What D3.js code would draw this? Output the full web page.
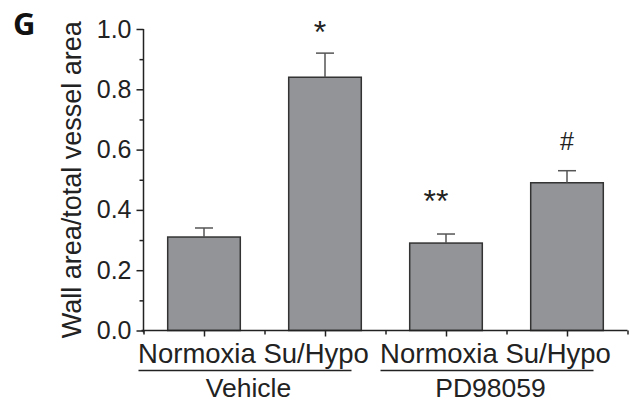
<!DOCTYPE html>
<html>
<head>
<meta charset="utf-8">
<script src="https://cdn.jsdelivr.net/npm/d3@7"></script>
<style>
  html, body { margin: 0; padding: 0; background: #fff; }
  svg { display: block; font-family: "Liberation Sans", Arial, sans-serif; }
</style>
</head>
<body>
<svg id="chart" width="633" height="404"></svg>
<script>
const categories = ['Normoxia', 'Su/Hypo', 'Normoxia', 'Su/Hypo'];
const groups = ['Vehicle', 'PD98059'];
const means = [0.31, 0.84, 0.29, 0.49];
const errors = [0.03, 0.08, 0.03, 0.04];
const marks = ['', '*', '**', '#'];
const yTicks = [0.0, 0.2, 0.4, 0.6, 0.8, 1.0];

const svg = d3.select('#chart');
const pl = 143.5, pr = 627.5, pt = 29, pb = 330.5;

const x = d3.scaleLinear().domain([0.5, 4.5]).range([pl, pr]);
const y = d3.scaleLinear().domain([0, 1]).range([pb, pt]);
const barW = x(1.6) - x(1);

// bars
svg.append('g').selectAll('rect')
  .data(means)
  .enter()
  .append('rect')
  .attr('x', (d, i) => x(i + 1) - barW / 2)
  .attr('y', d => y(d))
  .attr('width', barW)
  .attr('height', d => y(0) - y(d))
  .attr('fill', '#939497')
  .attr('stroke', '#333')
  .attr('stroke-width', 1.5);

// error bars (upper only)
const eb = svg.append('g').attr('stroke', '#555').attr('stroke-width', 1.5);
means.forEach((m, i) => {
  const cx = x(i + 1);
  eb.append('line').attr('x1', cx).attr('x2', cx).attr('y1', y(m)).attr('y2', y(m + errors[i]));
  eb.append('line').attr('x1', cx - 9).attr('x2', cx + 9).attr('y1', y(m + errors[i])).attr('y2', y(m + errors[i]));
});

// significance marks (gap above the error bar differs a bit per mark)
const markGap = { '*': 10, '**': 22, '#': 21 };
const markDx = { '*': -5, '**': -10, '#': 0 };
svg.append('g').selectAll('text')
  .data(marks)
  .enter()
  .append('text')
  .attr('x', (d, i) => x(i + 1) + (markDx[d] || 0))
  .attr('y', (d, i) => y(means[i] + errors[i]) - (markGap[d] || 0))
  .attr('text-anchor', 'middle')
  .attr('font-size', d => d === '#' ? 25 : 32)
  .attr('fill', '#222')
  .text(d => d);

// y axis
const yAxis = svg.append('g').attr('transform', `translate(${pl},0)`)
  .call(d3.axisLeft(y).tickValues(yTicks).tickFormat(d3.format('.1f')).tickSize(7).tickPadding(5));
svg.append('g').attr('transform', `translate(${pl},0)`)
  .call(d3.axisLeft(y).tickValues(d3.range(0.1, 1, 0.2)).tickSize(4).tickFormat(''))
  .select('.domain').remove();
yAxis.select('.domain').attr('d', `M0,${pt}V${pb + 2}`);
yAxis.selectAll('text').attr('font-size', 25).attr('fill', '#222').attr('font-family', 'Liberation Sans, Arial, sans-serif');

// x axis
const xAxis = svg.append('g').attr('transform', `translate(0,${pb})`)
  .call(d3.axisBottom(x).tickValues([1, 2, 3, 4]).tickSize(6).tickFormat(''));
svg.append('g').attr('transform', `translate(0,${pb})`)
  .call(d3.axisBottom(x).tickValues([0.5, 1.5, 2.5, 3.5, 4.5]).tickSize(4).tickFormat(''))
  .select('.domain').remove();
xAxis.select('.domain').attr('d', `M${pl - 2},0H${pr}`);

svg.selectAll('.domain, .tick line').attr('stroke', '#222').attr('stroke-width', 1.5);

// category labels, one row per group, with group name under a rule
groups.forEach((g, gi) => {
  const cx = (x(gi * 2 + 1) + x(gi * 2 + 2)) / 2;
  svg.append('text')
    .attr('x', cx - 11).attr('y', 363)
    .attr('text-anchor', 'middle').attr('font-size', 27.5).attr('fill', '#222')
    .text(categories[gi * 2] + ' ' + categories[gi * 2 + 1]);
  svg.append('line')
    .attr('x1', cx - 126).attr('x2', cx + 87)
    .attr('y1', 370.5).attr('y2', 370.5)
    .attr('stroke', '#222').attr('stroke-width', 1.5);
  svg.append('text')
    .attr('x', cx - 16).attr('y', 397)
    .attr('text-anchor', 'middle').attr('font-size', 26.5).attr('fill', '#222')
    .text(g);
});

// y axis title
svg.append('text')
  .attr('transform', `translate(81,${(pt + pb) / 2}) rotate(-90)`)
  .attr('text-anchor', 'middle').attr('font-size', 27).attr('fill', '#222')
  .text('Wall area/total vessel area');

// panel letter
svg.append('text')
  .attr('x', 13).attr('y', 35)
  .attr('font-size', 31).attr('font-weight', 'bold').attr('fill', '#111')
  .attr('font-family', '"Open Sans", Arial, sans-serif')
  .text('G');
</script>
</body>
</html>
